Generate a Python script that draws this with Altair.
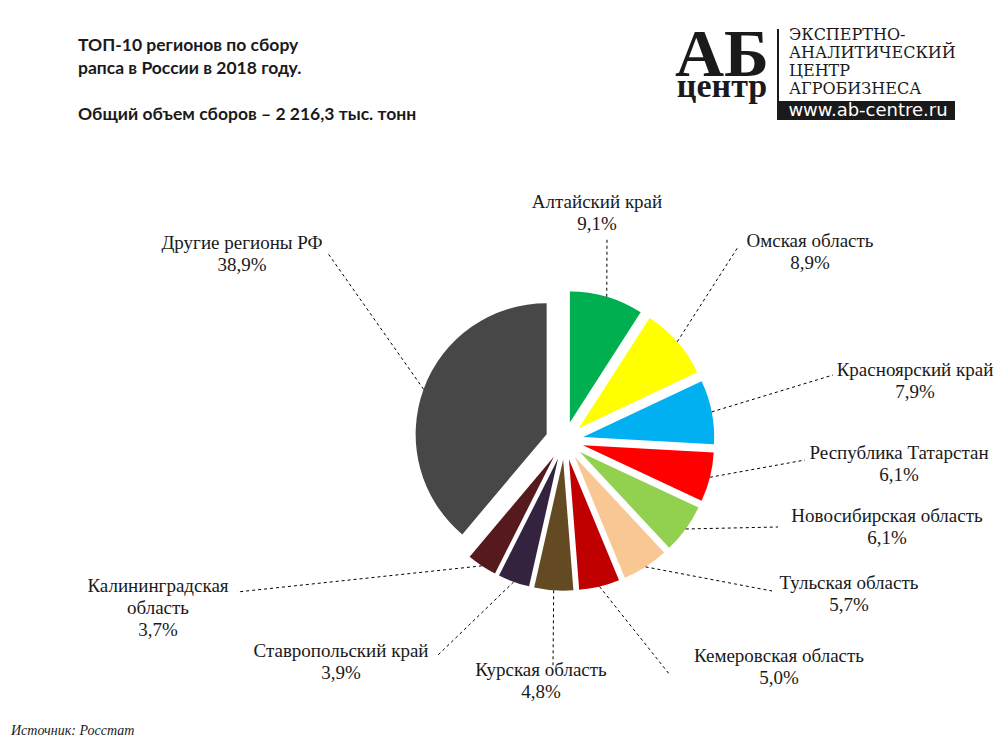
import altair as alt
import pandas as pd

# ---------------- data ----------------
regions = [
    "Алтайский край", "Омская область", "Красноярский край",
    "Республика Татарстан", "Новосибирская область", "Тульская область",
    "Кемеровская область", "Курская область", "Ставропольский край",
    "Калининградская\nобласть", "Другие регионы РФ",
]
shares = [9.1, 8.9, 7.9, 6.1, 6.1, 5.7, 5.0, 4.8, 3.9, 3.7, 38.9]

# ---------------- styles / layout ----------------
colors = ["#00B050", "#FFFF00", "#00B0F0", "#FF0000", "#92D050", "#F9C794",
          "#C00000", "#634A22", "#33233F", "#561A1E", "#474747"]
PIE_CX, PIE_CY = 564.5, 440.7
PIE_R = 131
EXPLODE = 19
# label block (centre x, top y of first line)
label_x = [597, 810, 915, 899, 887, 849, 779, 541, 341, 158, 242]
label_y = [193, 232, 361, 444, 507, 574, 647, 661, 642, 577, 234]
# leader line end next to the label
lead_x = [607, 738, 833, 805, 778, 772, 670, 553, 437, 237, 327]
lead_y = [238, 247, 375, 460, 527, 591, 675, 667, 656, 592, 252]

labels = [f"{r}\n{str(v).replace('.', ',')}%" for r, v in zip(regions, shares)]

df = pd.DataFrame({
    "idx": list(range(len(regions))),
    "region": regions,
    "share": shares,
    "label": labels,
    "lx": label_x, "ly": label_y,
    "ex": lead_x, "ey": lead_y,
})

base = (
    alt.Chart(df)
    .transform_joinaggregate(total="sum(share)")
    .transform_window(cum="sum(share)", sort=[alt.SortField("idx")], frame=[None, 0])
    .transform_calculate(
        a0="2*PI*(datum.cum-datum.share)/datum.total",
        a1="2*PI*datum.cum/datum.total",
    )
    .transform_calculate(amid="(datum.a0+datum.a1)/2")
    .transform_calculate(
        cx=f"{PIE_CX}+{EXPLODE}*sin(datum.amid)",
        cy=f"{PIE_CY}-{EXPLODE}*cos(datum.amid)",
    )
    .transform_calculate(
        sx=f"datum.cx+{PIE_R}*sin(datum.amid)",
        sy=f"datum.cy-{PIE_R}*cos(datum.amid)",
    )
)

arcs = base.mark_arc(radius=PIE_R, stroke=None).encode(
    theta=alt.Theta("a0:Q", scale=None),
    theta2="a1:Q",
    x=alt.X("cx:Q", scale=None, axis=None),
    y=alt.Y("cy:Q", scale=None, axis=None),
    color=alt.Color("region:N", scale=alt.Scale(domain=regions, range=colors), legend=None),
)

leaders = base.mark_rule(color="black", strokeWidth=1, strokeDash=[3, 3]).encode(
    x=alt.X("sx:Q", scale=None, axis=None),
    y=alt.Y("sy:Q", scale=None, axis=None),
    x2="ex:Q",
    y2="ey:Q",
)

texts = base.mark_text(
    font="Liberation Serif", fontSize=19, lineBreak="\n", lineHeight=22,
    align="center", baseline="top", color="#1a1a1a",
).encode(
    x=alt.X("lx:Q", scale=None, axis=None),
    y=alt.Y("ly:Q", scale=None, axis=None),
    text="label:N",
)


def note(txt, x, y, **kw):
    return alt.Chart(alt.Data(values=[{}])).mark_text(**kw).encode(
        x=alt.value(x), y=alt.value(y), text=alt.value(txt)
    )


title_style = dict(font="Lato", fontSize=17.5, fontWeight="bold", align="left",
                   baseline="middle", color="#1a1a1a")
title_lines = [
    note("ТОП-10 регионов по сбору", 78, 46, **title_style),
    note("рапса в России в 2018 году.", 78, 69, **title_style),
    note("Общий объем сборов – 2 216,3 тыс. тонн", 78, 115, **title_style),
]
source = note("Источник:  Росстат", 11, 731, font="Liberation Serif", fontSize=14,
              fontStyle="italic", align="left", baseline="middle", color="#222222")

logo_ab = note("АБ", 722, 76, font="Liberation Serif", fontSize=68, fontWeight="bold",
               align="center", baseline="alphabetic", color="#1a1a1a")
logo_c = note("центр", 722, 97, font="Liberation Serif", fontSize=34, fontWeight="bold",
              align="center", baseline="alphabetic", color="#1a1a1a")
logo_lines = [
    note(t, 789, yy, font="DejaVu Serif", fontSize=16, align="left", baseline="middle",
         color="#1a1a1a")
    for t, yy in zip(["ЭКСПЕРТНО-", "АНАЛИТИЧЕСКИЙ", "ЦЕНТР", "АГРОБИЗНЕСА"], [35, 53, 71, 89])
]
logo_bar = alt.Chart(alt.Data(values=[{}])).mark_rect(color="#1a1a1a").encode(
    x=alt.value(777), x2=alt.value(955), y=alt.value(101), y2=alt.value(120)
)
logo_vline = alt.Chart(alt.Data(values=[{}])).mark_rule(color="#1a1a1a", strokeWidth=2).encode(
    x=alt.value(778), y=alt.value(29), y2=alt.value(120)
)
logo_url = note("www.ab-centre.ru", 868, 111, font="DejaVu Sans", fontSize=18, align="center",
                baseline="middle", color="white")

chart = (
    alt.layer(arcs, leaders, texts, *title_lines, source, logo_ab, logo_c, *logo_lines,
              logo_vline, logo_bar, logo_url)
    .properties(width=1000, height=750, padding=0,
                autosize=alt.AutoSizeParams(type="none"), background="white")
    .configure_view(strokeWidth=0)
)

chart.save("out.html", embed_options={"renderer": "svg", "actions": False})
